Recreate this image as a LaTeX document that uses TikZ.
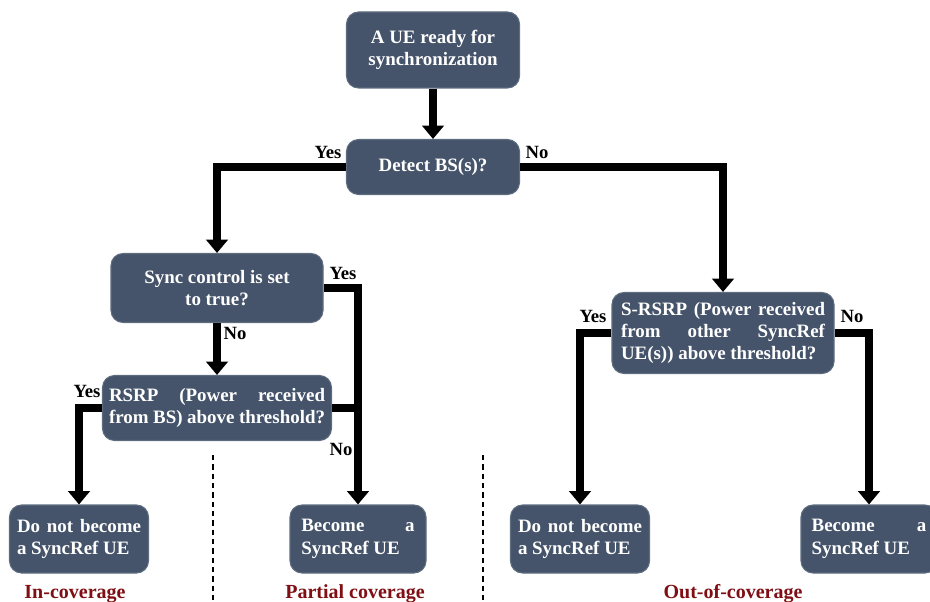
\documentclass[tikz,border=0pt]{standalone}
\usepackage{fontspec}
\setmainfont{Liberation Serif}[
  UprightFont={Liberation Serif},
  BoldFont={Liberation Serif Bold}]
\usetikzlibrary{arrows.meta}
\definecolor{boxfill}{HTML}{45546A}
\definecolor{boxedge}{HTML}{5E6C80}
\definecolor{zonered}{HTML}{7F0F14}
\tolerance=9999
\hyphenpenalty=10000
\exhyphenpenalty=10000
\begin{document}
\begin{tikzpicture}[x=0.75pt,y=-0.75pt,
  box/.style={rounded corners=9pt, fill=boxfill, draw=boxedge, line width=0.8pt,
    text=white, font=\rmfamily\bfseries\fontsize{14.2}{16.8}\selectfont, inner sep=0pt},
  flow/.style={line width=5.5pt, -{Triangle[width=16pt,length=10pt]}},
  link/.style={line width=5.5pt},
  lbl/.style={font=\rmfamily\bfseries\fontsize{14}{16}\selectfont, inner sep=0pt},
  zone/.style={font=\rmfamily\bfseries\fontsize{15}{18}\selectfont, text=zonered, anchor=base, inner sep=0pt},
  sep/.style={line width=0.8pt, dash pattern=on 4pt off 3pt}]
\useasboundingbox (0,0) rectangle (930,602);

% decision boxes
\node[box, minimum width=129.75pt, minimum height=57pt, align=center] (ue) at (433,50)
  {A UE ready for\\synchronization};
\node[box, minimum width=129.75pt, minimum height=41.25pt, align=center] (bs) at (433,167)
  {Detect BS(s)?};
\node[box, minimum width=159pt, minimum height=51.75pt, align=center] (sync) at (217,288)
  {Sync control is set\\to true?};
\node[box, minimum width=171.75pt, minimum height=48.75pt, text width=162pt, align=justify] (rsrp) at (217,408)
  {RSRP (Power received\linebreak from BS) above threshold?};
\node[box, minimum width=166.5pt, minimum height=60.75pt, text width=153pt, align=justify] (srsrp) at (723,333)
  {S-RSRP (Power received\linebreak from other SyncRef\linebreak UE(s)) above threshold?};

% outcome boxes
\node[box, minimum width=104.25pt, minimum height=51pt, text width=93pt, align=justify] (nin) at (79,539)
  {Do not become\linebreak a SyncRef UE};
\node[box, minimum width=102pt, minimum height=51pt, text width=85pt, align=justify] (ypart) at (358,539)
  {Become a\linebreak SyncRef UE};
\node[box, minimum width=104.25pt, minimum height=51pt, text width=93pt, align=justify] (nout) at (580,539)
  {Do not become\linebreak a SyncRef UE};
\node[box, minimum width=102pt, minimum height=51pt, text width=86pt, align=justify] (yout) at (869,539)
  {Become a\linebreak SyncRef UE};

% connectors
\draw[flow] (ue.south) -- (bs.north);
\draw[flow] (bs.west) -| (sync.north);
\draw[flow] (bs.east) -| (srsrp.north);
\draw[flow] (sync.south) -- (rsrp.north);
\draw[flow] (sync.east) -| (ypart.north);
\draw[link] (rsrp.east) -- (rsrp.east -| ypart.north);
\draw[flow] (rsrp.west) -| (nin.north);
\draw[flow] (srsrp.west) -| (nout.north);
\draw[flow] (srsrp.east) -| (yout.north);

% branch labels
\node[lbl] (l1) at (328,152) {Yes};
\node[lbl] (l2) at (537,152) {No};
\node[lbl] (l3) at (343,273) {Yes};
\node[lbl] (l4) at (235,333) {No};
\node[lbl] (l5) at (87,391) {Yes};
\node[lbl] (l6) at (341,449) {No};
\node[lbl] (l7) at (593,316) {Yes};
\node[lbl] (l8) at (852,316) {No};

% coverage zones
\coordinate (s1a) at (213,455);
\coordinate (s1b) at (213,602);
\coordinate (s2a) at (483,455);
\coordinate (s2b) at (483,602);
\draw[sep] (s1a) -- (s1b);
\draw[sep] (s2a) -- (s2b);
\node[zone] (z1) at (75,598) {In-coverage};
\node[zone] (z2) at (355,598) {Partial coverage};
\node[zone] (z3) at (733,598) {Out-of-coverage};
\end{tikzpicture}
\end{document}
